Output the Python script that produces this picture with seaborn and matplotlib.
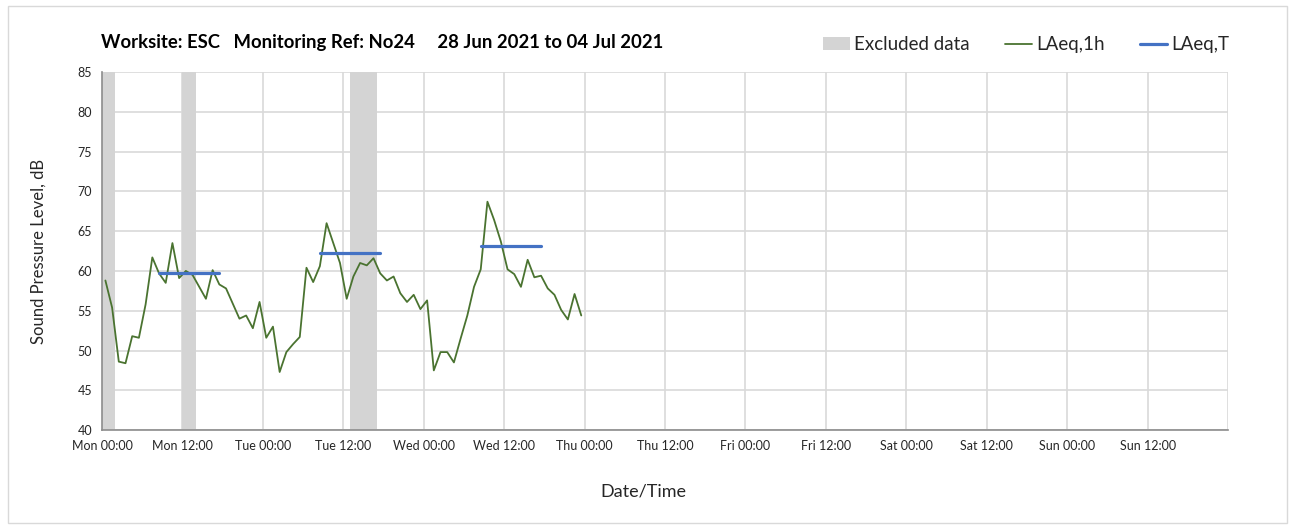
import numpy as np
import pandas as pd
import matplotlib
matplotlib.use('Agg')
from matplotlib import pyplot as plt
from matplotlib.patches import Patch, Rectangle
from matplotlib.lines import Line2D
import seaborn as sns

# hours since Mon 00:00, each hourly level is drawn at the middle of its hour
hours = np.arange(0.5, 72, 1.0)
laeq_1h = [58.8, 55.4, 48.6, 48.4, 51.8, 51.6, 55.8, 61.7, 59.7, 58.5,
           63.5, 59.1, 60.0, 59.5, 58.0, 56.5, 60.1, 58.3, 57.8, 55.9,
           54.0, 54.4, 52.8, 56.1, 51.6, 53.0, 47.3, 49.8, 50.8, 51.7,
           60.4, 58.6, 60.6, 66.0, 63.5, 61.0, 56.5, 59.3, 61.0, 60.7,
           61.6, 59.7, 58.8, 59.3, 57.2, 56.1, 57.0, 55.2, 56.3, 47.5,
           49.8, 49.8, 48.5, 51.5, 54.4, 58.0, 60.2, 68.7, 66.4, 63.7,
           60.2, 59.6, 58.0, 61.4, 59.2, 59.4, 57.8, 57.0, 55.1, 53.9,
           57.1, 54.4]

# LAeq,T over the daytime period of each day
day_start = [8.5, 32.5, 56.5]
day_end = [17.5, 41.5, 65.5]
laeq_t = [59.7, 62.2, 63.1]

# excluded data periods (hours since Mon 00:00)
excl_start = [0, 12, 37]
excl_end = [2, 14, 41]

tick_labels = ['Mon 00:00', 'Mon 12:00', 'Tue 00:00', 'Tue 12:00',
               'Wed 00:00', 'Wed 12:00', 'Thu 00:00', 'Thu 12:00',
               'Fri 00:00', 'Fri 12:00', 'Sat 00:00', 'Sat 12:00',
               'Sun 00:00', 'Sun 12:00', '']

title = 'Worksite: ESC   Monitoring Ref: No24     28 Jun 2021 to 04 Jul 2021'

GREEN = '#4a7330'
BLUE = '#4472c4'
BAND = '#d4d4d4'
GRID = '#d9d9d9'
AXIS = '#8c8c8c'
TEXT = '#262626'

sns.set_style('white')
plt.rcParams['font.family'] = ['Lato', 'DejaVu Sans']

df_1h = pd.DataFrame({'hour': hours, 'level': laeq_1h})
df_t = pd.DataFrame({
    'hour': day_start + day_end,
    'level': laeq_t + laeq_t,
    'period': list(range(len(laeq_t))) * 2,
})

fig = plt.figure(figsize=(12.95, 5.29), dpi=100)
ax = fig.add_axes([0.0788, 0.187, 0.8695, 0.6769])

for s, e in zip(excl_start, excl_end):
    ax.axvspan(s, e, color=BAND, lw=0, zorder=1)

sns.lineplot(data=df_1h, x='hour', y='level', color=GREEN, lw=1.3, ax=ax, zorder=3)
sns.lineplot(data=df_t, x='hour', y='level', units='period', estimator=None,
             color=BLUE, lw=2.3, ax=ax, zorder=4)

ax.set_xlim(0, 168)
ax.set_ylim(40, 85)
ax.set_xticks(np.arange(0, 169, 12))
ax.set_xticklabels(tick_labels)
ax.set_yticks(np.arange(40, 86, 5))
ax.grid(True, color=GRID, lw=1.2, zorder=0)
ax.set_axisbelow(True)
for side in ['top', 'right']:
    ax.spines[side].set_visible(False)
for side in ['left', 'bottom']:
    ax.spines[side].set_color(AXIS)
    ax.spines[side].set_linewidth(1.2)
ax.tick_params(axis='both', direction='out', length=4, width=1, color=AXIS,
               labelsize=9, labelcolor=TEXT, pad=3)
ax.set_xlabel('')
ax.set_ylabel('')

fig.text(0.0295, 0.525, 'Sound Pressure Level, dB', rotation=90, ha='center',
         va='center', fontsize=12, color=TEXT)
fig.text(0.4965, 0.07, 'Date/Time', ha='center', va='center', fontsize=13, color=TEXT)
fig.text(0.078, 0.92, title, ha='left', va='center', fontsize=13.3,
         fontweight='bold', color='#000000')

handles = [Patch(facecolor=BAND, edgecolor='none'),
           Line2D([], [], color=GREEN, lw=1.3),
           Line2D([], [], color=BLUE, lw=2.3)]
fig.legend(handles, ['Excluded data', 'LAeq,1h', 'LAeq,T'], loc='center right',
           bbox_to_anchor=(0.949, 0.915), ncol=3, frameon=False, fontsize=13.5,
           handlelength=1.45, handleheight=0.7, handletextpad=0.2, columnspacing=1.9,
           labelcolor=TEXT, borderpad=0, borderaxespad=0)

fig.add_artist(Rectangle((0.006, 0.012), 0.988, 0.976, transform=fig.transFigure,
                         fill=False, edgecolor=GRID, lw=1))

fig.savefig('out.png', dpi=100)
